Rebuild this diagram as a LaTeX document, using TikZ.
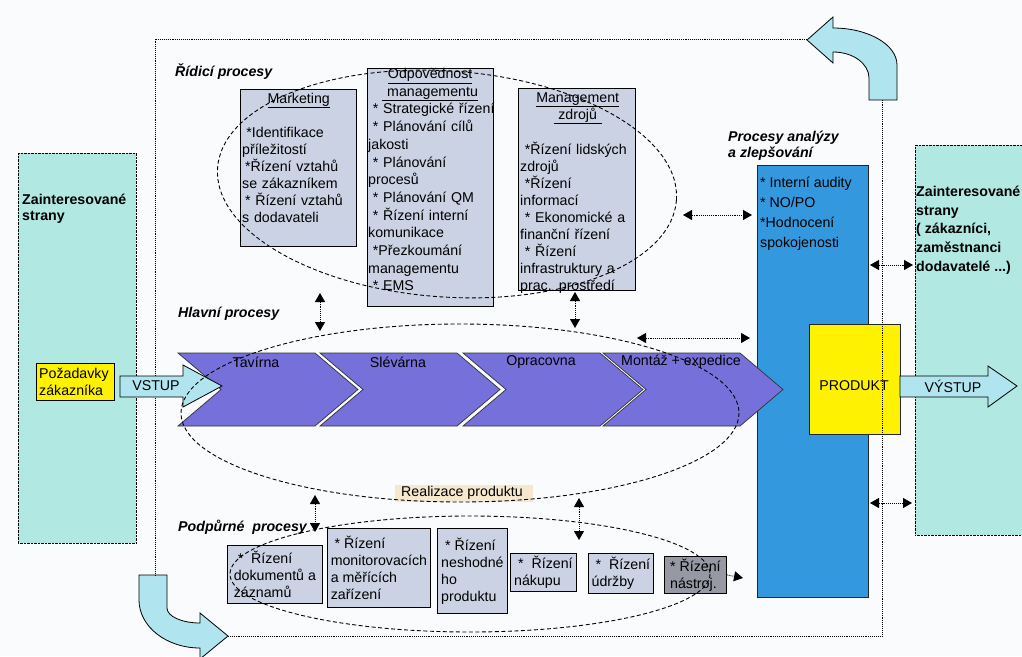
\documentclass[tikz,border=0pt]{standalone}
\usepackage{fontspec}
\setmainfont{Liberation Sans}
\usepackage{tikz}
\usetikzlibrary{arrows.meta}
\definecolor{cyanbox}{RGB}{178,232,226}
\definecolor{arrfill}{RGB}{176,228,238}
\definecolor{anablue}{RGB}{52,152,222}
\definecolor{chevpurple}{RGB}{118,112,218}
\definecolor{grayfill}{RGB}{202,210,228}
\definecolor{darkfill}{RGB}{150,152,164}
\definecolor{tanfill}{RGB}{246,232,206}
\definecolor{paper}{RGB}{249,251,253}

\begin{document}
\begin{tikzpicture}[x=1pt, y=-1pt,
  every node/.style={font=\fontsize{14.2}{17}\selectfont},
  frame/.style={densely dotted, line width=0.9pt},
  partybox/.style={draw, densely dotted, fill=cyanbox, anchor=north west, inner sep=0},
  grbox/.style={draw, line width=0.8pt, fill=grayfill, anchor=north west, inner sep=0},
  boxtext/.style={anchor=north west, inner sep=0, align=left},
  chev/.style={fill=chevpurple, draw=black!80, line width=0.7pt},
  ell/.style={dash pattern=on 4pt off 2.5pt, line width=0.9pt},
  dbl/.style={densely dotted, line width=0.9pt, {Triangle[length=9pt,width=10pt]}-{Triangle[length=9pt,width=10pt]}},
  blockarr/.style={fill=arrfill, draw=black, line width=0.8pt},
  head/.style={font=\fontsize{14.2}{17}\selectfont\bfseries\itshape, anchor=west, inner sep=0}]
\useasboundingbox (0,0) rectangle (1022,656);
\fill[paper] (0,0) rectangle (1022,656);

% interested parties on both sides
\node[partybox, minimum width=118, minimum height=390] (leftparty) at (18,153) {};
\node[boxtext, font=\fontsize{14.2}{16}\selectfont\bfseries] (lefttxt) at (22,193) {\strut Zainteresované\\strany};
\node[partybox, minimum width=115, minimum height=390] (rightparty) at (915,145) {};
\node[boxtext, font=\fontsize{14.2}{18.75}\selectfont\bfseries] (righttxt) at (916,183)
  {\strut Zainteresované\\strany\\( zákazníci,\\zaměstnanci\\dodavatelé ...)};

% analysis column and product
\node[draw=black!85, line width=0.8pt, fill=anablue, anchor=north west, minimum width=111, minimum height=432, inner sep=0] (anabox) at (757,165) {};
\node[boxtext, font=\fontsize{14.2}{20}\selectfont] (anatxt) at (760,173)
  {\strut * Interní audity\\ * NO/PO\\ *Hodnocení\\spokojenosti};
\node[head, anchor=north west, align=left, font=\fontsize{14.2}{16}\selectfont\bfseries\itshape] (anahead) at (728,130)
  {\strut Procesy analýzy\\a zlepšování};
\node[draw=black!85, line width=0.8pt, fill=yellow, anchor=north west, minimum width=91, minimum height=110, inner sep=0] (produkt) at (809,324) {};
\node (produkttxt) at (854,386) {PRODUKT};

% dotted frame with the two bent arrows
\draw[blockarr] (869,100) -- (869,78) .. controls (869,63.6) and (852.9,52) .. (833,52)
  -- (833,63) -- (807,40) -- (833,17) -- (833,28)
  .. controls (868.3,28) and (897,44.6) .. (897,65) -- (897,100) -- cycle;
\draw[blockarr] (139,575) -- (167,575) -- (167,608) .. controls (167,616.3) and (181.8,623) .. (200,623)
  -- (200,613) -- (228,636) -- (200,659) -- (200,648)
  .. controls (166.3,648) and (139,626.5) .. (139,600) -- cycle;
\coordinate (toptip) at (807,39);
\coordinate (leftdrop) at (155,575);
\coordinate (bottip) at (228,636);
\coordinate (rightrise) at (882,100);
\draw[frame] (toptip) -| (leftdrop);
\draw[frame] (bottip) -| (rightrise);

% management processes
\node[head] (ridici) at (175,72) {Řídicí procesy};
\node[grbox, minimum width=116, minimum height=157] (mkt) at (240,89) {};
\node[boxtext, text width=113] (mkttxt) at (242,91)
  {\strut\makebox[\linewidth]{\underline{Marketing}}\\[17pt]
   \hspace*{0.3em}*Identifikace\\příležitostí\\ \hspace*{0.2em}*Řízení vztahů\\se zákazníkem\\ \hspace*{0.2em}* Řízení vztahů\\s dodavateli};
\node[grbox, minimum width=126, minimum height=238] (odp) at (367,68) {};
\node[boxtext, text width=128, font=\fontsize{14.2}{17.7}\selectfont] (odptxt) at (368,66)
  {\strut\makebox[124pt]{\underline{Odpovědnost}}\\\makebox[124pt]{\underline{\ managementu}}\\
   \ * Strategické řízení\\\ * Plánování cílů\\jakosti\\\ * Plánování\\procesů\\\ * Plánování QM\\
   \ * Řízení interní\\komunikace\\\ *Přezkoumání\\managementu\\\ * EMS};
\node[grbox, minimum width=117, minimum height=202] (zdroje) at (518,88) {};
\node[boxtext, text width=115] (zdrojetxt) at (520,90)
  {\strut\makebox[\linewidth]{\underline{Management}}\\\makebox[\linewidth]{\underline{\ zdrojů\ }}\\[17pt]
   \ *Řízení lidských\\zdrojů\\\ *Řízení\\informací\\\ * Ekonomické a\\finanční řízení\\\ * Řízení\\infrastruktury a\\prac. prostředí};

% main processes
\node[head] (hlavni) at (178,314) {Hlavní procesy};
\foreach \x/\lbl/\nm in {178/Tavírna/tav, 320/Slévárna/sle, 463/Opracovna/opr, 603/{Montáž + expedice}/mon}{
  \draw[chev] (\x,353) -- ++(137,0) -- ++(43,36.5) -- ++(-43,36.5) -- ++(-137,0) -- ++(43,-36.5) -- cycle;
  \node (\nm) at (\x+78,362) {\lbl};
}
\node[draw, line width=0.8pt, fill=yellow, anchor=north west, minimum width=78, minimum height=37, inner sep=0] (pozad) at (36,363) {};
\node[boxtext] (pozadtxt) at (39,366) {\strut Požadavky\\zákazníka};
\draw[blockarr] (120,376) -- (183,376) -- (183,365) -- (222,386) -- (183,407) -- (183,397) -- (120,397) -- cycle;
\node (vstup) at (156,386) {VSTUP};
\draw[blockarr] (900,376) -- (988,376) -- (988,366) -- (1017,386) -- (988,407) -- (988,397) -- (900,397) -- cycle;
\node (vystup) at (953,386) {VÝSTUP};
\node[fill=tanfill, anchor=north west, minimum width=138, minimum height=17, inner sep=0] (realiz) at (395,485) {};
\node (realiztxt) at (462,492.5) {Realizace produktu};

% support processes
\node[head] (podp) at (178,527) {Podpůrné\ \ procesy};
\node[grbox, minimum width=95, minimum height=58, align=left] (dok) at (227,545) {\ *\ \ Řízení\\dokumentů a\\záznamů};
\node[grbox, minimum width=103, minimum height=79, align=left] (mon) at (327,528) {\ * Řízení\\monitorovacích\\a měřících\\zařízení};
\node[grbox, minimum width=70, minimum height=85, align=left] (nes) at (437,528) {\ * Řízení\\neshodné\\ho\\produktu};
\node[grbox, minimum width=66, minimum height=38, align=left] (nak) at (510,553) {\ *\ \ Řízení\\nákupu};
\node[grbox, minimum width=65, minimum height=40, align=left] (udr) at (588,553) {\ *\ \ Řízení\\údržby};
\node[grbox, fill=darkfill, minimum width=62, minimum height=37, align=left] (nas) at (664,556) {* Řízení\\nástroj.};
\coordinate (nasend) at (743,578);
\draw[densely dotted, line width=0.9pt, -{Triangle[length=9pt,width=10pt]}] (nas.east) -- (nasend);

% dashed groupings
\draw[ell] (447,184) ellipse [x radius=230, y radius=113, rotate=-4];
\draw[ell] (460,413) ellipse [x radius=279, y radius=89];
\draw[ell] (470,574) ellipse [x radius=240, y radius=58];

% links between the groups
\coordinate (a1) at (320,293); \coordinate (a2) at (320,331);
\coordinate (b1) at (575,292); \coordinate (b2) at (575,328);
\coordinate (c1) at (637,338); \coordinate (c2) at (750,338);
\coordinate (d1) at (683,215); \coordinate (d2) at (752,215);
\coordinate (e1) at (870,265); \coordinate (e2) at (913,265);
\coordinate (f1) at (870,503); \coordinate (f2) at (912,503);
\coordinate (g1) at (315,495); \coordinate (g2) at (315,532);
\coordinate (h1) at (579,498); \coordinate (h2) at (579,540);
\draw[dbl] (a1) -- (a2);
\draw[dbl] (b1) -- (b2);
\draw[dbl] (c1) -- (c2);
\draw[dbl] (d1) -- (d2);
\draw[dbl] (e1) -- (e2);
\draw[dbl] (f1) -- (f2);
\draw[dbl] (g1) -- (g2);
\draw[dbl] (h1) -- (h2);
\end{tikzpicture}
\end{document}
